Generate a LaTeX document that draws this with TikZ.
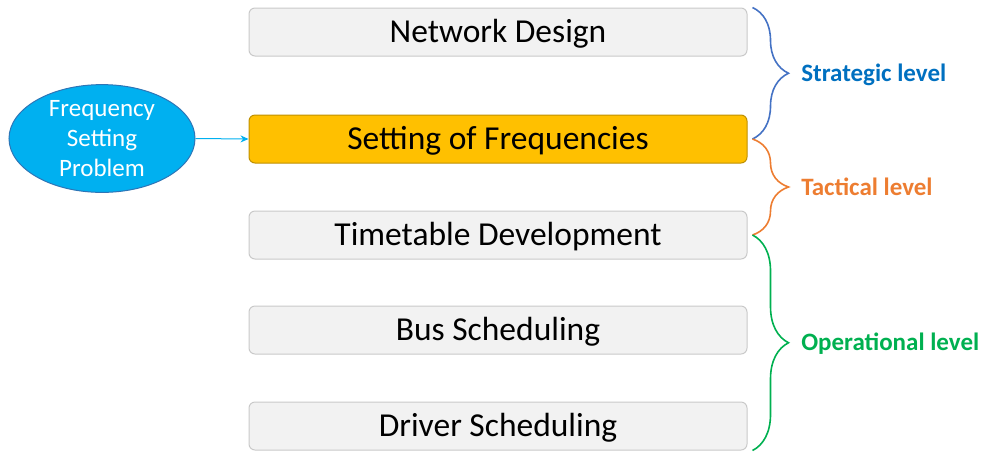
\documentclass[tikz,border=0pt]{standalone}
\usepackage{fontspec}
\setmainfont{Carlito}
\usetikzlibrary{positioning}
\usetikzlibrary{arrows.meta}
\usetikzlibrary{shapes.geometric}
\usetikzlibrary{decorations.pathreplacing}
\definecolor{boxgray}{HTML}{F2F2F2}
\definecolor{boxedge}{HTML}{C9C9C9}
\definecolor{freqgold}{HTML}{FFC000}
\definecolor{freqedge}{HTML}{BF9000}
\definecolor{probcyan}{HTML}{00B0F0}
\definecolor{probedge}{HTML}{2E75B6}
\definecolor{stratblue}{HTML}{4472C4}
\definecolor{strattext}{HTML}{0070C0}
\definecolor{tactorange}{HTML}{ED7D31}
\definecolor{opgreen}{HTML}{00B050}
\tikzset{layerbox/.style={rectangle,rounded corners=6pt,draw=boxedge,fill=boxgray,
line width=1pt,inner sep=0pt,minimum height=48pt, minimum width=498pt,
text height=21.5pt,text depth=0pt,font=\fontsize{33.5}{38}\selectfont}}
\tikzset{layerboxhot/.style={layerbox,draw=freqedge,fill=freqgold}}
\tikzset{probnode/.style={ellipse,draw=probedge,fill=probcyan,text=white,
line width=1pt,inner sep=0pt,minimum width=186pt, minimum height=97pt,
align=center,font=\fontsize{25}{30}\selectfont}}
\tikzset{levelbrace/.style={decorate,decoration={brace,amplitude=36pt},
draw=#1,line width=1.6pt}}
\tikzset{levellabel/.style={inner sep=0pt,right=48pt,text height=16pt,text depth=0pt,
font=\fontsize{25}{30}\selectfont\bfseries}}

\begin{document}
\begin{tikzpicture}
    \useasboundingbox (0pt,0pt) rectangle (981pt,-451pt);

        \node[layerbox] (boxNet) at (498pt,-32pt) {Network Design};
        \node[layerboxhot] (boxFreq) [below=58pt of boxNet] {Setting of Frequencies};
        \node[layerbox] (boxTime) [below=47pt of boxFreq] {Timetable Development};
        \node[layerbox] (boxBus) [below=46pt of boxTime] {Bus Scheduling};
        \node[layerbox] (boxDriver) [below=47pt of boxBus] {Driver Scheduling};

        \node[probnode] (probFreq) at (102pt,-138.5pt) {Frequency\\Setting\\Problem};
        \draw [probcyan,line width=1pt,-{Stealth[length=8pt,width=7pt]}] (probFreq.east) -- (boxFreq.west);

        \draw [levelbrace=stratblue] ([xshift=5pt]boxNet.north east)
            --node[levellabel,text=strattext] {Strategic level} ([xshift=5pt]boxFreq.east);
        \draw [levelbrace=tactorange] ([xshift=5pt]boxFreq.east)
            --node[levellabel,text=tactorange] {Tactical level} ([xshift=5pt]boxTime.east);
        \draw [levelbrace=opgreen] ([xshift=5pt]boxTime.east)
            --node[levellabel,text=opgreen] {Operational level} ([xshift=5pt]boxDriver.south east);

    \end{tikzpicture}
\end{document}
